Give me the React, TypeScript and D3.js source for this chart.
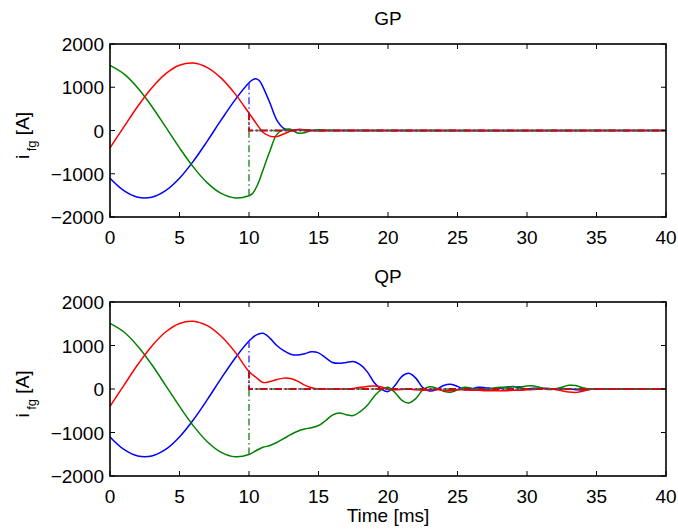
import React from 'react';
import * as d3 from 'd3';

// pre-fault currents (same in both panels), sampled every 1 ms
const preTime = [0, 1, 2, 3, 4, 5, 6, 7, 8, 9, 10];
const preBlue = [-1103, -1390, -1541, -1541, -1390, -1103, -708, -244, 244, 708, 1103];
const preGreen = [1507, 1310, 984, 562, 84, -401, -847, -1211, -1455, -1558, -1507];
const preRed = [-401, 84, 562, 984, 1310, 1507, 1558, 1455, 1211, 847, 401];

// GP: after the fault
const gpTime = [10.25, 10.5, 10.75, 11, 11.5, 12, 12.5, 13, 13.5, 14, 14.5, 15, 16, 40];
const gpBlue = [1170, 1195, 1150, 1010, 640, 240, 50, 0, 25, 20, 0, 0, 0, 0];
const gpGreen = [-1460, -1330, -1150, -920, -480, -90, 20, 30, -60, -50, 0, 15, 0, 0];
const gpRed = [290, 170, 60, -40, -130, -140, -80, -10, 20, 15, 0, -5, 0, 0];

// QP: after the fault
const qpTime = [10.5, 11, 11.5, 12, 12.5, 13, 13.5, 14, 14.5, 15, 15.5, 16, 16.5, 17, 17.5, 18, 18.5, 19, 19.5,
  20, 20.5, 21, 21.5, 22, 22.5, 23, 23.5, 24, 24.5, 25, 25.5, 26, 26.5, 27, 27.5, 28, 28.5, 29, 29.5,
  30, 30.5, 31, 31.5, 32, 32.5, 33, 33.5, 34, 34.5, 35, 36, 40];
const qpBlue = [1240, 1280, 1170, 1000, 880, 800, 780, 810, 855, 830, 720, 610, 590, 610, 630, 560, 400, 150, 0,
  -60, 80, 290, 360, 250, 30, -45, -10, 80, 110, 60, -20, 0, 40, 30, 10, 15, 40, 55, 30,
  5, 15, 20, 10, 5, 5, 0, -15, -25, -10, 0, 0, 0];
const qpGreen = [-1420, -1340, -1300, -1230, -1140, -1050, -970, -920, -890, -840, -730, -600, -550, -590, -610, -520, -380, -170, -20,
  40, -80, -260, -320, -220, -20, 50, 20, -50, -75, -20, 40, 20, -20, -20, 10, 40, 40, 50, 50,
  70, 70, 30, -10, 0, 40, 85, 80, 30, 0, 0, 0, 0];
const qpRed = [270, 150, 170, 220, 250, 240, 180, 90, 30, 0, 0, 0, 0, 0, 10, 40, 60, 70, 50,
  -10, -20, -10, 0, -20, -30, -20, -10, -30, -40, -20, -20, -30, -30, -40, -40, -40, -40, -30, -30,
  -20, -10, 0, 10, -10, -40, -70, -80, -50, -10, 0, 0, 0];

const xTicks = [0, 5, 10, 15, 20, 25, 30, 35, 40];
const yTicks = [-2000, -1000, 0, 1000, 2000];
const faultTime = 10;

const colors = { blue: '#0000ff', green: '#008000', red: '#ff0000' };
const refColors = { blue: '#3030ff', green: '#208020', red: '#c01010' };
const font = '"Liberation Sans", Arial, Helvetica, sans-serif';

const left = 110, right = 666;

type Pt = [number, number];

function zip(t: number[], v: number[]): Pt[] {
  return t.map((d, i) => [d, v[i]] as Pt);
}

function Panel({ title, top, bottom, post, showXLabel }: {
  title: string; top: number; bottom: number;
  post: { time: number[]; blue: number[]; green: number[]; red: number[] };
  showXLabel: boolean;
}) {
  const x = d3.scaleLinear().domain([0, 40]).range([left, right]);
  const y = d3.scaleLinear().domain([-2000, 2000]).range([bottom, top]);
  const line = d3.line<Pt>().x(d => x(d[0])).y(d => y(d[1])).curve(d3.curveCatmullRom.alpha(0.5));
  const straight = d3.line<Pt>().x(d => x(d[0])).y(d => y(d[1]));
  const fmt = d3.format('d');

  const series = [
    { c: colors.blue, rc: refColors.blue, pre: preBlue, post: post.blue },
    { c: colors.green, rc: refColors.green, pre: preGreen, post: post.green },
    { c: colors.red, rc: refColors.red, pre: preRed, post: post.red },
  ];
  const tick = 5;
  const cy = (top + bottom) / 2;

  return (
    <g>
      <text x={(left + right) / 2} y={top - 19} textAnchor="middle" fontSize={19} fontFamily={font}>{title}</text>
      {series.map((s, i) => (
        <path key={'s' + i} d={line(zip(preTime, s.pre).concat(zip(post.time, s.post))) || ''}
          fill="none" stroke={s.c} strokeWidth={1.5} />
      ))}
      {series.map((s, i) => (
        <path key={'r' + i}
          d={straight([[faultTime, s.pre[s.pre.length - 1]], [faultTime, 0], [40, 0]]) || ''}
          fill="none" stroke={s.rc} strokeWidth={i === 2 ? 2 : 1.6} strokeDasharray="7,3,1.5,3"
          opacity={i === 2 ? 1 : 0.85} />
      ))}
      <rect x={left} y={top} width={right - left} height={bottom - top} fill="none" stroke="#000" strokeWidth={1.6} />
      {xTicks.map(t => (
        <g key={'x' + t}>
          <line x1={x(t)} x2={x(t)} y1={bottom} y2={bottom - tick} stroke="#000" strokeWidth={1} />
          <line x1={x(t)} x2={x(t)} y1={top} y2={top + tick} stroke="#000" strokeWidth={1} />
          <text x={x(t)} y={bottom + 27} textAnchor="middle" fontSize={19} fontFamily={font}>{fmt(t)}</text>
        </g>
      ))}
      {yTicks.map(t => (
        <g key={'y' + t}>
          <line x1={left} x2={left + tick} y1={y(t)} y2={y(t)} stroke="#000" strokeWidth={1} />
          <line x1={right} x2={right - tick} y1={y(t)} y2={y(t)} stroke="#000" strokeWidth={1} />
          <text x={left - 6} y={y(t) + 7} textAnchor="end" fontSize={19} fontFamily={font}>{fmt(t)}</text>
        </g>
      ))}
      <text transform={`translate(29,${cy + 5}) rotate(-90)`} textAnchor="middle" fontSize={19} fontFamily={font}>
        i<tspan dy={7} fontSize={13}> fg</tspan><tspan dy={-7}> [A]</tspan>
      </text>
      {showXLabel && (
        <text x={(left + right) / 2} y={bottom + 46} textAnchor="middle" fontSize={19} fontFamily={font}>Time [ms]</text>
      )}
    </g>
  );
}

export default function App() {
  return (
    <svg width={678} height={530} style={{ position: 'absolute', left: 0, top: 0, background: '#fff' }}>
      <rect width={678} height={530} fill="#fff" />
      <Panel title="GP" top={44} bottom={217}
        post={{ time: gpTime, blue: gpBlue, green: gpGreen, red: gpRed }} showXLabel={false} />
      <Panel title="QP" top={302} bottom={476}
        post={{ time: qpTime, blue: qpBlue, green: qpGreen, red: qpRed }} showXLabel={true} />
    </svg>
  );
}
